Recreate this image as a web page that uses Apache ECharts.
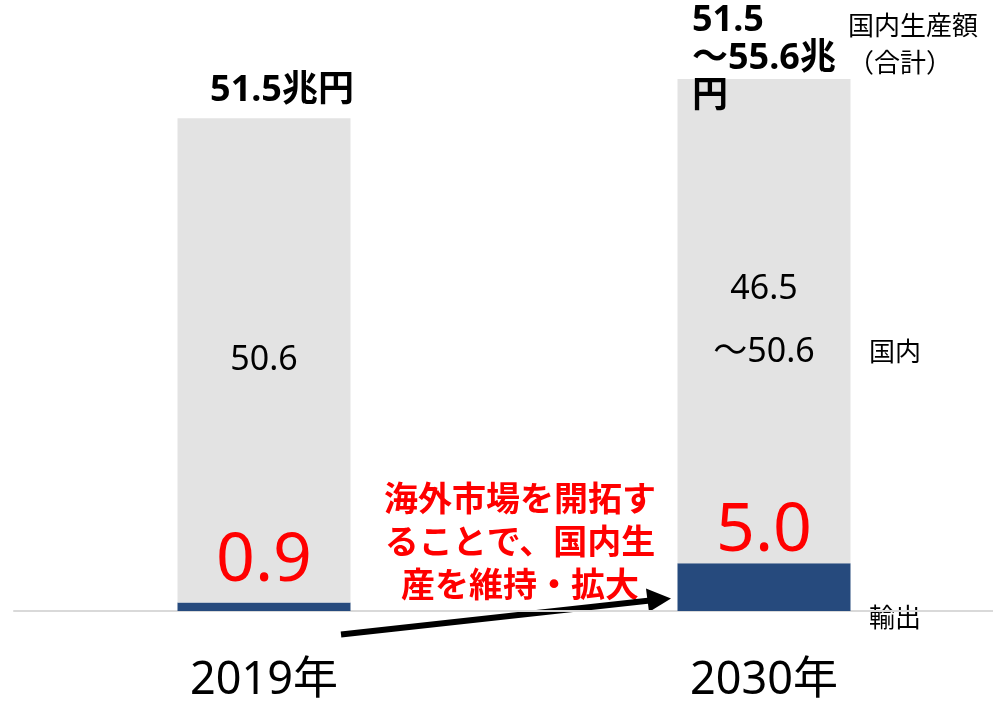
<!DOCTYPE html>
<html>
<head>
<meta charset="utf-8">
<script src="https://cdn.jsdelivr.net/npm/echarts@6/dist/echarts.min.js"></script>
<style>
html,body{margin:0;padding:0;background:#fff;}
#chart{width:993px;height:701px;}
</style>
</head>
<body>
<div id="chart"></div>
<script>
const categories = ['2019年', '2030年'];
const exportValues = [0.9, 5.0];
const domesticValues = [50.6, 50.6];
const exportLabels = ['0.9', '5.0'];
const domesticLabels = ['50.6', '46.5\n～50.6'];
const totalLabels = ['51.5兆円', '51.5\n～55.6兆\n円'];
const seriesNames = ['輸出', '国内', '国内生産額（合計）'];
const sideLabels = ['国内生産額\n（合計）', '国内', '輸出'];
const noteText = '海外市場を開拓す\nることで、国内生\n産を維持・拡大';

const FONT = "'Noto Sans', 'Noto Sans CJK JP', sans-serif";
const chart = echarts.init(document.getElementById('chart'), null, {renderer: 'canvas'});

const exportLabelDistance = [7, -2];
const totalLabelCfg = [
  {distance: 8, offset: [18, 0], align: 'center', lineHeight: 40},
  {distance: -37, offset: [-72, 0], align: 'left', lineHeight: 38}
];

const option = {
  animation: false,
  backgroundColor: '#ffffff',
  grid: {left: 14, right: -21, top: 37, bottom: 90, containLabel: false, outerBoundsMode: 'none'},
  xAxis: {
    type: 'category',
    data: categories,
    axisLine: {show: true, lineStyle: {color: '#d9d9d9', width: 2}},
    axisTick: {show: false},
    axisLabel: {fontFamily: FONT, fontSize: 45, color: '#000', margin: 48}
  },
  yAxis: {type: 'value', min: 0, max: 60, show: false},
  series: [
    {
      name: seriesNames[0], type: 'bar', stack: 'total', barWidth: 173,
      itemStyle: {color: '#264a7d'},
      data: exportValues.map((v, i) => ({
        value: v,
        label: {
          show: true, position: 'top', distance: exportLabelDistance[i],
          formatter: exportLabels[i], color: '#ff0000', fontFamily: FONT,
          fontSize: 68, lineHeight: 68
        }
      }))
    },
    {
      name: seriesNames[1], type: 'bar', stack: 'total', barWidth: 173,
      itemStyle: {color: '#e3e3e3'},
      data: domesticValues.map((v, i) => ({
        value: v,
        label: {
          show: true, position: 'inside', formatter: domesticLabels[i],
          color: '#000', fontFamily: FONT, fontSize: 34, lineHeight: 63
        }
      }))
    },
    {
      name: seriesNames[2], type: 'bar', stack: 'total', barWidth: 173,
      itemStyle: {color: 'rgba(0,0,0,0)'},
      data: totalLabels.map((t, i) => ({
        value: 0,
        label: {
          show: true, position: 'top', distance: totalLabelCfg[i].distance,
          offset: totalLabelCfg[i].offset, align: totalLabelCfg[i].align,
          formatter: t, color: '#000', fontFamily: FONT, fontWeight: 'bold',
          fontSize: 36, lineHeight: totalLabelCfg[i].lineHeight
        }
      }))
    }
  ],
  graphic: [
    {type: 'text', left: 848, top: 9, style: {text: sideLabels[0], font: '26px ' + FONT, fill: '#000', lineHeight: 37}},
    {type: 'text', left: 869, top: 341, style: {text: sideLabels[1], font: '26px ' + FONT, fill: '#000'}},
    {type: 'text', left: 869, top: 607, style: {text: sideLabels[2], font: '26px ' + FONT, fill: '#000'}},
    {type: 'text', x: 520, y: 544, style: {text: noteText, font: 'bold 34px ' + FONT, fill: '#ff0000', align: 'center', verticalAlign: 'middle', lineHeight: 43}},
    {type: 'line', shape: {x1: 341, y1: 634.5, x2: 650, y2: 600.5}, style: {stroke: '#000', lineWidth: 6}},
    {type: 'polygon', shape: {points: [[671, 598.5], [646, 588.5], [649, 612]]}, style: {fill: '#000'}}
  ]
};
chart.setOption(option);
</script>
</body>
</html>
